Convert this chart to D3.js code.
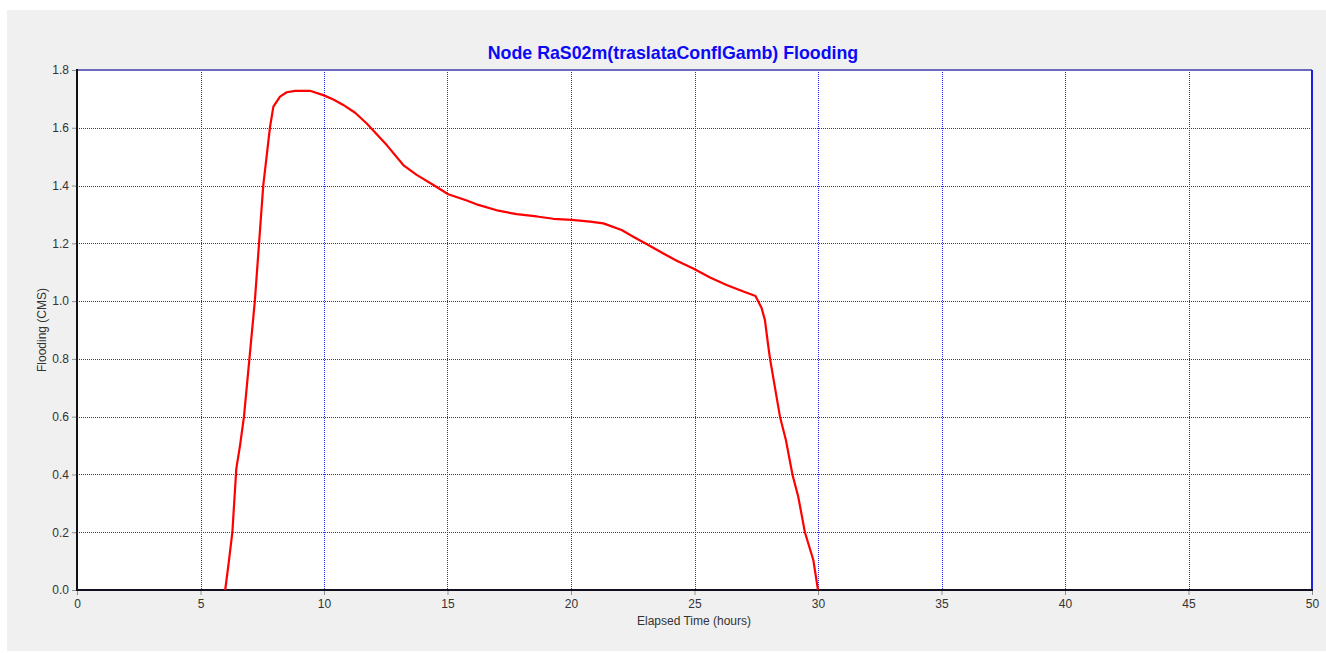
<!DOCTYPE html>
<html>
<head>
<meta charset="utf-8">
<script src="https://cdn.jsdelivr.net/npm/d3@7"></script>
<style>
  html, body { margin: 0; padding: 0; background: #ffffff; }
  svg { display: block; }
  text { font-family: "Liberation Sans", Arial, sans-serif; }
</style>
</head>
<body>
<svg id="chart" width="1326" height="653"></svg>
<script>
// Flooding time series for node RaS02m (hours, CMS)
const hours = [6.0, 6.15, 6.29, 6.45, 6.6, 6.76, 6.98, 7.2, 7.37, 7.54, 7.81, 7.95, 8.22, 8.49, 8.83, 9.43, 9.97, 10.38, 10.78, 11.26, 11.73, 12.54, 13.21, 13.75, 14.43, 15.03, 15.78, 16.25, 17.06, 17.8, 18.61, 19.28, 20.03, 20.77, 21.31, 22.05, 22.52, 23.13, 23.74, 24.28, 24.95, 25.63, 26.3, 26.98, 27.47, 27.72, 27.85, 27.99, 28.06, 28.46, 28.7, 28.97, 29.2, 29.47, 29.81, 30.0];
const flooding = [0, 0.1, 0.2, 0.42, 0.5, 0.6, 0.8, 1.0, 1.2, 1.4, 1.6, 1.673, 1.708, 1.723, 1.728, 1.728, 1.713, 1.698, 1.679, 1.652, 1.615, 1.54, 1.471, 1.437, 1.402, 1.37, 1.348, 1.333, 1.313, 1.301, 1.293, 1.285, 1.281, 1.275, 1.269, 1.246, 1.223, 1.194, 1.165, 1.14, 1.113, 1.082, 1.056, 1.033, 1.018, 0.975, 0.935, 0.842, 0.799, 0.6, 0.519, 0.398, 0.323, 0.2, 0.104, 0];
const xTicks = [0, 5, 10, 15, 20, 25, 30, 35, 40, 45, 50];
const yTicks = [0.0, 0.2, 0.4, 0.6, 0.8, 1.0, 1.2, 1.4, 1.6, 1.8];
const titleText = "Node RaS02m(traslataConflGamb) Flooding";
const xLabel = "Elapsed Time (hours)";
const yLabel = "Flooding (CMS)";

const svg = d3.select("#chart");
const plot = { left: 77, right: 1312, top: 70, bottom: 590 };

// panel background
svg.append("rect").attr("x", 7).attr("y", 10).attr("width", 1319).attr("height", 641).attr("fill", "#f0f0f0");
svg.append("rect").attr("x", plot.left).attr("y", plot.top)
  .attr("width", plot.right - plot.left).attr("height", plot.bottom - plot.top).attr("fill", "#ffffff");

const x = d3.scaleLinear().domain([0, 50]).range([plot.left, plot.right]);
const y = d3.scaleLinear().domain([0, 1.8]).range([plot.bottom, plot.top]);

// dotted grid
const grid = svg.append("g").attr("stroke", "#0000ff").attr("stroke-width", 1)
  .attr("stroke-dasharray", "1,1").attr("shape-rendering", "crispEdges").attr("opacity", 0.85);
grid.selectAll("line.v").data(xTicks.slice(1, -1)).enter().append("line")
  .attr("x1", d => Math.round(x(d)) + 0.5).attr("x2", d => Math.round(x(d)) + 0.5)
  .attr("y1", plot.top).attr("y2", plot.bottom);
grid.selectAll("line.h").data(yTicks.slice(1, -1)).enter().append("line")
  .attr("y1", d => Math.round(y(d)) + 0.5).attr("y2", d => Math.round(y(d)) + 0.5)
  .attr("x1", plot.left).attr("x2", plot.right);

// axes
const xAxis = d3.axisBottom(x).tickValues(xTicks).tickSize(5).tickPadding(4).tickFormat(d3.format("d"));
const yAxis = d3.axisLeft(y).tickValues(yTicks).tickSize(5).tickPadding(3).tickFormat(d3.format(".1f"));

const gx = svg.append("g").attr("transform", `translate(0,${plot.bottom})`).call(xAxis);
const gy = svg.append("g").attr("transform", `translate(${plot.left},0)`).call(yAxis);
[gx, gy].forEach(g => {
  g.select(".domain").remove();
  g.selectAll(".tick line").attr("stroke", "#909090");
  g.selectAll(".tick text").attr("fill", "#333333").style("font-size", "12px")
    .style("font-family", "'Liberation Sans', Arial, sans-serif");
});

// plot frame: blue top/right, black left/bottom
svg.append("line").attr("x1", plot.left).attr("x2", plot.right).attr("y1", plot.top).attr("y2", plot.top)
  .attr("stroke", "#6a6ab8").attr("stroke-width", 2);
svg.append("line").attr("x1", plot.right).attr("x2", plot.right).attr("y1", plot.top).attr("y2", plot.bottom)
  .attr("stroke", "#2020e0").attr("stroke-width", 2);
svg.append("line").attr("x1", plot.left).attr("x2", plot.left).attr("y1", plot.top - 1).attr("y2", plot.bottom + 1)
  .attr("stroke", "#111111").attr("stroke-width", 2);
svg.append("line").attr("x1", plot.left).attr("x2", plot.right + 1).attr("y1", plot.bottom).attr("y2", plot.bottom)
  .attr("stroke", "#111122").attr("stroke-width", 2);

// series
const line = d3.line().x((d, i) => x(hours[i])).y(d => y(d));
svg.append("path").datum(flooding).attr("d", line)
  .attr("fill", "none").attr("stroke", "#ff0000").attr("stroke-width", 2.2).attr("stroke-linejoin", "round");

// titles
svg.append("text").attr("x", 673).attr("y", 59).attr("text-anchor", "middle")
  .attr("fill", "#0a0af5").style("font-size", "17.8px").style("font-weight", "bold").text(titleText);
svg.append("text").attr("x", 694).attr("y", 625).attr("text-anchor", "middle")
  .attr("fill", "#333333").style("font-size", "12px").text(xLabel);
svg.append("text").attr("transform", "translate(46,330) rotate(-90)").attr("text-anchor", "middle")
  .attr("fill", "#333333").style("font-size", "12px").text(yLabel);
</script>
</body>
</html>
